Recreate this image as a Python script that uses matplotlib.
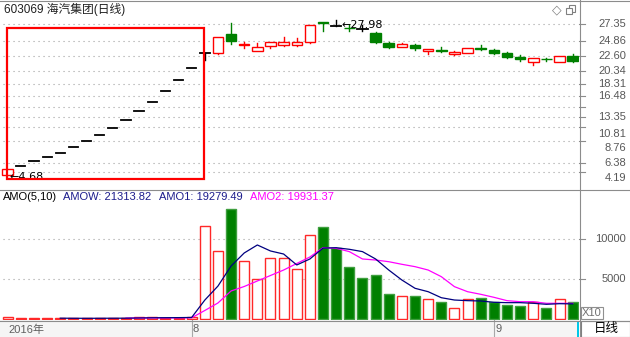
import matplotlib
matplotlib.use("Agg")
import numpy as np
import matplotlib.pyplot as plt
from matplotlib.patches import Rectangle
from matplotlib.transforms import blended_transform_factory

plt.rcParams['font.family'] = ['Liberation Sans', 'Noto Sans CJK SC', 'DejaVu Sans']

W, H = 630, 337
RED = '#ff0000'
GREEN = '#008000'
GRID = '#a0a0a0'
BORDER = '#8c8c8c'
LABEL = '#585858'

# 日K线 (开, 高, 低, 收)
opens = [4.68, 6.02, 6.74, 7.38, 7.98, 8.86, 9.76, 10.66, 11.71, 12.91, 14.26, 15.61, 17.27, 18.92, 20.73,
         22.98, 22.95, 25.85, 24.20, 23.30, 24.09, 24.24, 24.24, 24.60, 27.65, 27.00, 26.80, 26.60, 25.95,
         24.45, 23.95, 24.20, 23.30, 23.40, 22.85, 23.05, 23.75, 23.44, 23.04, 22.44, 21.69, 22.09, 21.64, 22.54]
highs = [5.62, 6.02, 6.74, 7.38, 7.98, 8.86, 9.76, 10.66, 11.71, 12.91, 14.26, 15.61, 17.27, 18.92, 20.73,
         22.98, 25.35, 27.45, 24.64, 24.45, 24.64, 25.44, 25.24, 27.20, 27.65, 27.98, 27.15, 27.15, 26.10,
         24.60, 24.55, 24.30, 23.55, 23.95, 23.35, 23.74, 24.20, 23.60, 23.20, 22.70, 22.24, 22.19, 22.54, 22.84]
lows = [4.68, 6.02, 6.74, 7.38, 7.98, 8.86, 9.76, 10.66, 11.71, 12.91, 14.26, 15.61, 17.27, 18.92, 20.73,
        21.94, 22.80, 24.35, 23.80, 23.25, 23.80, 24.09, 24.10, 24.50, 26.35, 27.00, 26.35, 26.35, 24.45,
        23.80, 23.95, 23.40, 22.80, 23.20, 22.70, 23.05, 23.45, 22.90, 22.30, 21.85, 21.23, 21.85, 21.64, 21.70]
closes = [5.62, 6.02, 6.74, 7.38, 7.98, 8.86, 9.76, 10.66, 11.71, 12.91, 14.26, 15.61, 17.27, 18.92, 20.73,
          22.98, 25.35, 24.75, 24.28, 23.85, 24.64, 24.69, 24.69, 27.20, 27.45, 27.00, 26.72, 26.60, 24.69,
          23.95, 24.35, 23.70, 23.55, 23.30, 23.15, 23.74, 23.62, 23.04, 22.44, 22.04, 22.24, 22.04, 22.54, 21.84]

# 成交额 (X10)
amo = [250, 150, 120, 120, 120, 120, 120, 150, 150, 150, 250, 250, 200, 200, 250,
       11625, 8500, 13750, 7290, 5080, 7660, 7660, 6330, 10540, 11500, 8950, 6500, 5125, 5540,
       3125, 2950, 2950, 2580, 2125, 1375, 2580, 2625, 2125, 1790, 1625, 2125, 1375, 2580, 2131]
amo_up = [1] * 17 + [0] + [1] * 6 + [0] * 6 + [1, 0, 1, 0, 1, 1, 0, 0, 0, 0, 1, 0, 1, 0]
amo1 = [np.nan] * 4 + [140, 130, 125, 130, 135, 140, 165, 190, 200, 210, 230,
                       2400, 4150, 6660, 8290, 9290, 8540, 8160, 6790, 7540, 8900, 8950, 8750, 8460, 7540,
                       6160, 4910, 3875, 3450, 2700, 2410, 2330, 2290, 2125, 2080, 2080, 2000, 1875, 1950, 1928]
amo2 = [np.nan] * 9 + [150, 160, 170, 175, 180, 190,
                       1100, 2040, 3540, 4100, 4790, 5475, 6160, 6975, 7790, 8950, 8875, 8460, 7540, 7410,
                       7200, 6875, 6580, 6160, 5330, 4080, 3450, 3125, 2750, 2330, 2200, 2200, 2000, 2000, 1993]

price_labels = [27.35, 24.86, 22.60, 20.34, 18.31, 16.48, 13.35, 10.81, 8.76, 6.38, 4.19]
price_grid = [27.35, 24.86, 22.60, 20.34, 18.31, 16.48, 14.87, 13.35, 11.86, 9.76, 6.38, 5.09]
amo_labels = [10000, 5000]
month_pos = [14, 37]
month_names = ['8', '9']


def box(x0, y0, x1, y1):
    return [x0 / W, 1 - y1 / H, (x1 - x0) / W, (y1 - y0) / H]


def frect(x0, y0, x1, y1, **kw):
    fig.add_artist(Rectangle((x0 / W, 1 - y1 / H), (x1 - x0) / W, (y1 - y0) / H,
                             transform=fig.transFigure, **kw))


def fline(x0, y0, x1, y1, **kw):
    fig.add_artist(plt.Line2D([x0 / W, x1 / W], [1 - y0 / H, 1 - y1 / H],
                              transform=fig.transFigure, **kw))


def ftext(x, y, s, **kw):
    fig.text(x / W, 1 - y / H, s, **kw)


fig = plt.figure(figsize=(W / 100, H / 100), dpi=100)
fig.patch.set_facecolor('white')
n = len(opens)
xlim = (-0.586, 43.48)

# ---- K线 ----
ax = fig.add_axes(box(0, 1, 579, 189))
ax.set_xlim(*xlim)
ax.set_ylim(2.54, 30.81)
ax.axis('off')
for g in price_grid:
    ax.axhline(g, xmin=3 / 579, xmax=575 / 579, color=GRID, lw=0.8, ls=(0, (1, 3.5)), zorder=0)

bw = 0.8
for i in range(n):
    o, h, l, c = opens[i], highs[i], lows[i], closes[i]
    if c > o:
        col = RED
    elif c < o:
        col = GREEN
    else:
        col = 'black'
    top, bot = max(o, c), min(o, c)
    if h > top:
        ax.plot([i, i], [top, h], color=col, lw=1.0)
    if l < bot:
        ax.plot([i, i], [l, bot], color=col, lw=1.0)
    if top == bot:
        dw = 0.7 if h == l else bw
        ax.plot([i - dw / 2, i + dw / 2], [o, o], color=col, lw=1.3)
    else:
        face = 'white' if c > o else GREEN
        ax.add_patch(Rectangle((i - bw / 2, bot), bw, top - bot, facecolor=face,
                               edgecolor=col, lw=1.0, zorder=3))

ax.add_patch(Rectangle((-0.03, 4.04), 14.97, 22.75, fill=False, edgecolor=RED, lw=1.6, zorder=4))
ax.annotate('←27.98', xy=(25, 27.98), xytext=(3.6, -3.7), textcoords='offset points',
            fontsize=8, ha='left', va='center', color='black', family=['DejaVu Sans'])
ax.annotate('←4.68', xy=(0, 4.68), xytext=(1.4, -1.6), textcoords='offset points',
            fontsize=8, ha='left', va='center', color='black', family=['DejaVu Sans'])
ax.text(4 / 579, 1 - 8 / 188, '603069 海汽集团(日线)', transform=ax.transAxes,
        fontsize=8.5, ha='left', va='center', color='#202020')

trans = blended_transform_factory(ax.transAxes, ax.transData)
for v in price_labels:
    ax.text(626 / 579, v, f'{v:.2f}', transform=trans, ha='right', va='center',
            fontsize=8, color=LABEL, clip_on=False)
for g in price_grid:
    ax.plot([1.0, 1.0095], [g, g], transform=trans, color=BORDER, lw=0.8, clip_on=False)

# ---- AMO ----
ax2 = fig.add_axes(box(0, 190, 579, 320))
ax2.set_xlim(*xlim)
ax2.set_ylim(-87.5, 16162)
ax2.axis('off')
for v in amo_labels:
    ax2.axhline(v, xmin=3 / 579, xmax=575 / 579, color=GRID, lw=0.8, ls=(0, (1, 3.5)), zorder=0)
x = np.arange(n)
faces = ['white' if u else GREEN for u in amo_up]
edges = ['#ff2828' if u else '#3f9f3f' for u in amo_up]
ax2.bar(x, amo, width=0.76, color=faces, edgecolor=edges, lw=1.0, zorder=2)
ax2.plot(x, amo1, color='#000080', lw=0.9, zorder=4)
ax2.plot(x, amo2, color='#ff00ff', lw=0.9, zorder=3)

trans2 = blended_transform_factory(ax2.transAxes, ax2.transData)
for v in amo_labels:
    ax2.text(626 / 579, v, str(v), transform=trans2, ha='right', va='center',
             fontsize=8, color=LABEL, clip_on=False)
    ax2.plot([1.0, 1.0095], [v, v], transform=trans2, color=BORDER, lw=0.8, clip_on=False)

ftext(3, 197.5, 'AMO(5,10)', fontsize=8, color='black', va='center')
ftext(63, 197.5, 'AMOW: 21313.82', fontsize=8, color='#1c1c8c', va='center')
ftext(159, 197.5, 'AMO1: 19279.49', fontsize=8, color='#1c1c8c', va='center')
ftext(250, 197.5, 'AMO2: 19931.37', fontsize=8, color='#ff00ff', va='center')

# ---- 日期栏 ----
ax3 = fig.add_axes(box(0, 320, 579, 337))
ax3.set_xlim(*xlim)
ax3.set_ylim(0, 1)
ax3.set_facecolor('#f5f5f5')
ax3.set_xticks([])
ax3.set_yticks([])
for s in ax3.spines.values():
    s.set_visible(False)
ax3.text(8 / 579, 0.45, '2016年', transform=ax3.transAxes, fontsize=8, color='#606060',
         ha='left', va='center')
for p, m in zip(month_pos, month_names):
    ax3.axvline(p, color='#a8a8a8', lw=0.8)
    ax3.text(p + 0.1, 0.45, m, fontsize=8, color='#606060', ha='left', va='center')

# ---- 边框与右侧 ----
fline(0, 0.5, 630, 0.5, color=BORDER, lw=0.8)
fline(579.5, 0, 579.5, 337, color=BORDER, lw=0.8)
fline(0, 189.5, 630, 189.5, color=BORDER, lw=0.8)
fline(0, 320.5, 630, 320.5, color=BORDER, lw=0.8)

ftext(556.5, 10, '◇', fontsize=9, color='#808080', ha='center', va='center', family='DejaVu Sans')
frect(569, 5, 575, 11.5, facecolor='white', edgecolor='#808080', lw=0.8)
frect(566, 7.5, 572, 13.5, facecolor='white', edgecolor='#808080', lw=0.8)

frect(581, 307, 603, 319, facecolor='white', edgecolor='#909090', lw=0.8)
ftext(592, 313.5, 'X10', fontsize=8, color='#707070', ha='center', va='center')
frect(581, 321, 629.5, 336.5, facecolor='white', edgecolor='#808080', lw=0.8)
ftext(606, 329, '日线', fontsize=9, color='black', ha='center', va='center')
frect(577, 322, 579, 337, facecolor='#00c8e8', edgecolor='none')

fig.savefig('out.png', dpi=100)
